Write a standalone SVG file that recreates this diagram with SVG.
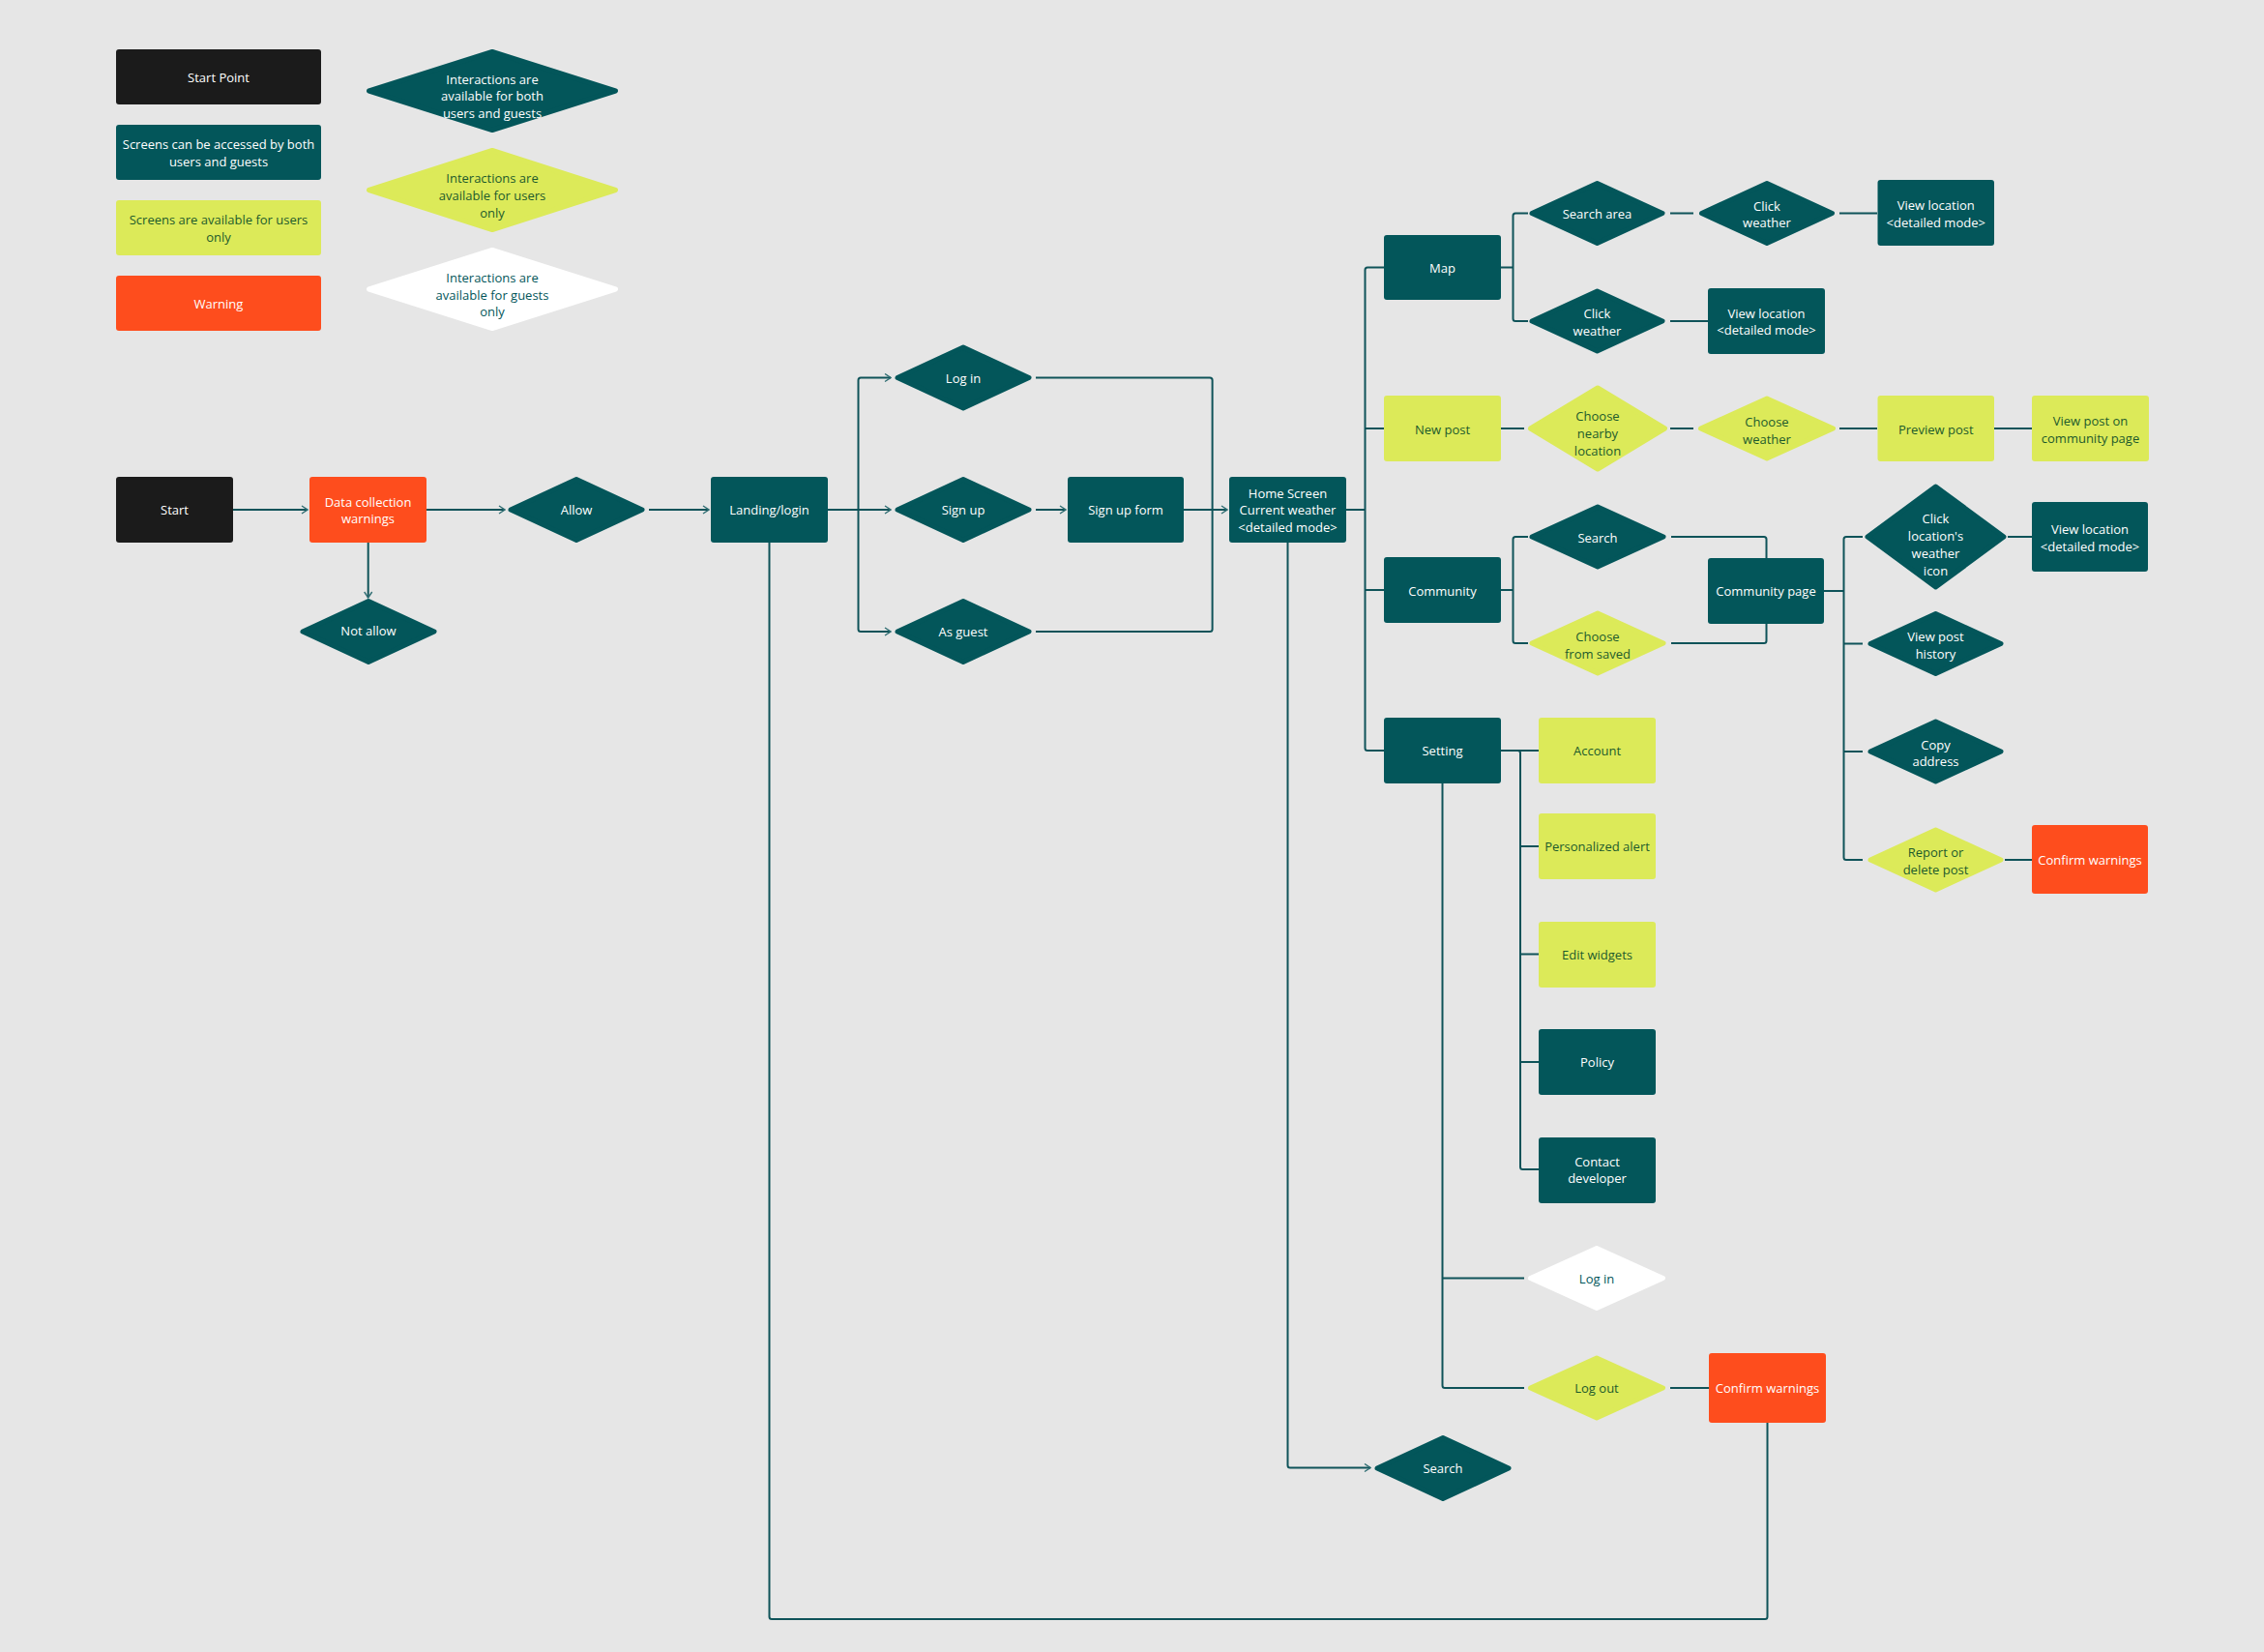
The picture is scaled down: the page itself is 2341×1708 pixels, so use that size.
<svg xmlns="http://www.w3.org/2000/svg" width="2341" height="1708" viewBox="0 0 2341 1708">
  <defs>
    <marker id="arr" viewBox="0 0 8 10" refX="7" refY="5" markerWidth="8" markerHeight="10" markerUnits="userSpaceOnUse" orient="auto">
      <path d="M1,1 L7,5 L1,9" fill="none" stroke="#2f6d72" stroke-width="1.4"/>
    </marker>
    <style>
      .bg { fill: #e6e6e6; }
      .dk { fill: #03565a; stroke: #03565a; }
      .yl { fill: #dcea59; stroke: #dcea59; }
      .wh { fill: #ffffff; stroke: #ffffff; }
      .or { fill: #fe4d1d; stroke: #fe4d1d; }
      .bk { fill: #1b1b1b; stroke: #1b1b1b; }
      rect.dk, rect.yl, rect.wh, rect.or, rect.bk { stroke-width: 0; }
      polygon { stroke-width: 5; stroke-linejoin: round; }
      text { font-family: "Open Sans", "Noto Sans", "Liberation Sans", sans-serif; font-size: 13px; text-anchor: middle; }
      .tw { fill: #ffffff; }
      .tg { fill: #1d5a2c; }
      .tt { fill: #03565a; }
      #connectors path { fill: none; stroke: #0f5359; stroke-width: 2; stroke-linejoin: round; }
      #connectors path.a { marker-end: url(#arr); }
    </style>
  </defs>

  <rect class="bg" x="0" y="0" width="2341" height="1708"/>

  <!-- legend -->
  <g id="legend">
    <g id="lg-start"><rect class="bk" x="120" y="51" width="212" height="57" rx="3"/><text class="tw" x="226" y="84.5">Start Point</text></g>
    <g id="lg-both"><rect class="dk" x="120" y="129" width="212" height="57" rx="3"/><text class="tw" x="226" y="154">Screens can be accessed by both</text><text class="tw" x="226" y="172">users and guests</text></g>
    <g id="lg-users"><rect class="yl" x="120" y="207" width="212" height="57" rx="3"/><text class="tg" x="226" y="232">Screens are available for users</text><text class="tg" x="226" y="250">only</text></g>
    <g id="lg-warning"><rect class="or" x="120" y="285" width="212" height="57" rx="3"/><text class="tw" x="226" y="319">Warning</text></g>
    <g id="lg-int-both"><polygon class="dk" points="381.5,94 509,53.5 636.5,94 509,134.5"/><text class="tw" x="509" y="86.5">Interactions are</text><text class="tw" x="509" y="103.5">available for both</text><text class="tw" x="509" y="121.5">users and guests</text></g>
    <g id="lg-int-users"><polygon class="yl" points="381.5,196.5 509,155.5 636.5,196.5 509,237.5"/><text class="tg" x="509" y="189">Interactions are</text><text class="tg" x="509" y="207">available for users</text><text class="tg" x="509" y="225">only</text></g>
    <g id="lg-int-guests"><polygon class="wh" points="381.5,299 509,258.5 636.5,299 509,339.5"/><text class="tt" x="509" y="292">Interactions are</text><text class="tt" x="509" y="310">available for guests</text><text class="tt" x="509" y="327">only</text></g>
  </g>

  <!-- connectors -->
  <g id="connectors">
    <path class="a" d="M241,527 H318"/>
    <path class="a" d="M441,527 H522"/>
    <path class="a" d="M380.7,561 V618"/>
    <path class="a" d="M671,527 H733"/>
    <path d="M856,527 H887.5"/>
    <path class="a" d="M887.5,527 V393 Q887.5,390.5 890,390.5 H921"/>
    <path class="a" d="M887.5,527 H921"/>
    <path class="a" d="M887.5,527 V650.5 Q887.5,653 890,653 H921"/>
    <path class="a" d="M1071,527 H1102"/>
    <path d="M1071,390.5 H1251 Q1253.6,390.5 1253.6,393 V527"/>
    <path d="M1071,653 H1251 Q1253.6,653 1253.6,650.5 V527"/>
    <path class="a" d="M1224,527 H1269"/>
    <!-- home screen trunk -->
    <path d="M1392,527 H1411"/>
    <path d="M1431,276.5 H1414 Q1411.5,276.5 1411.5,279 V773.5 Q1411.5,776 1414,776 H1431"/>
    <path d="M1411.5,443 H1431"/>
    <path d="M1411.5,610 H1431"/>
    <!-- map -->
    <path d="M1552,276.5 H1564"/>
    <path d="M1580,220.5 H1567 Q1564.5,220.5 1564.5,223 V329.5 Q1564.5,332 1567,332 H1580"/>
    <path d="M1727,220.5 H1751"/>
    <path d="M1902,220.5 H1941"/>
    <path d="M1727,332 H1766"/>
    <!-- new post -->
    <path d="M1552,443 H1576"/>
    <path d="M1727,443 H1751"/>
    <path d="M1902,443 H1941"/>
    <path d="M2062,443 H2101"/>
    <!-- community -->
    <path d="M1552,610 H1564"/>
    <path d="M1580,555 H1567 Q1564.5,555 1564.5,557.5 V662.5 Q1564.5,665 1567,665 H1580"/>
    <path d="M1728,555 H1824 Q1826.5,555 1826.5,557.5 V577"/>
    <path d="M1728,665 H1824 Q1826.5,665 1826.5,662.5 V645"/>
    <path d="M1886,611 H1906"/>
    <path d="M1926,555 H1909 Q1906.5,555 1906.5,557.5 V886.5 Q1906.5,889 1909,889 H1926"/>
    <path d="M1906.5,665.5 H1926"/>
    <path d="M1906.5,777 H1926"/>
    <path d="M2076,555 H2101"/>
    <path d="M2073,889 H2101"/>
    <!-- setting -->
    <path d="M1552,776 H1591"/>
    <path d="M1569.5,776 Q1572,776 1572,778.5 V1206.5 Q1572,1209 1574.5,1209 H1591"/>
    <path d="M1572,875 H1591"/>
    <path d="M1572,986.5 H1591"/>
    <path d="M1572,1098 H1591"/>
    <path d="M1491.5,810 V1432.5 Q1491.5,1435 1494,1435 H1576"/>
    <path d="M1491.5,1321.5 H1576"/>
    <path d="M1727,1435 H1767"/>
    <!-- home screen to search -->
    <path class="a" d="M1331.5,561 V1515 Q1331.5,1517.5 1334,1517.5 H1417"/>
    <!-- confirm warnings back to landing -->
    <path d="M1827.5,1471 V1671.5 Q1827.5,1674 1825,1674 H798 Q795.5,1674 795.5,1671.5 V561"/>
  </g>

  <!-- main flow -->
  <g id="n-start"><rect class="bk" x="120" y="493" width="121" height="68" rx="3"/><text class="tw" x="180.5" y="531.5">Start</text></g>
  <g id="n-data"><rect class="or" x="320" y="493" width="121" height="68" rx="3"/><text class="tw" x="380.5" y="523.5">Data collection</text><text class="tw" x="380.5" y="541">warnings</text></g>
  <g id="n-allow"><polygon class="dk" points="528,527 596,495.5 664,527 596,558.5"/><text class="tw" x="596" y="531.5">Allow</text></g>
  <g id="n-notallow"><polygon class="dk" points="313,653 381,621.5 449,653 381,684.5"/><text class="tw" x="381" y="657">Not allow</text></g>
  <g id="n-landing"><rect class="dk" x="735" y="493" width="121" height="68" rx="3"/><text class="tw" x="795.5" y="531.5">Landing/login</text></g>
  <g id="n-login"><polygon class="dk" points="928,390.5 996,359 1064,390.5 996,422"/><text class="tw" x="996" y="396">Log in</text></g>
  <g id="n-signup"><polygon class="dk" points="928,527 996,495.5 1064,527 996,558.5"/><text class="tw" x="996" y="531.5">Sign up</text></g>
  <g id="n-guest"><polygon class="dk" points="928,653 996,621.5 1064,653 996,684.5"/><text class="tw" x="996" y="658">As guest</text></g>
  <g id="n-signupform"><rect class="dk" x="1104" y="493" width="120" height="68" rx="3"/><text class="tw" x="1164" y="531.5">Sign up form</text></g>
  <g id="n-home"><rect class="dk" x="1271" y="493" width="121" height="68" rx="3"/><text class="tw" x="1331.5" y="515">Home Screen</text><text class="tw" x="1331.5" y="532">Current weather</text><text class="tw" x="1331.5" y="550">&lt;detailed mode&gt;</text></g>

  <!-- map branch -->
  <g id="n-map"><rect class="dk" x="1431" y="243" width="121" height="67" rx="3"/><text class="tw" x="1491.5" y="282">Map</text></g>
  <g id="n-searcharea"><polygon class="dk" points="1584,220.5 1651.5,189.5 1719,220.5 1651.5,251.5"/><text class="tw" x="1651.5" y="226">Search area</text></g>
  <g id="n-clickweather1"><polygon class="dk" points="1759.5,220.5 1827,189.5 1894.5,220.5 1827,251.5"/><text class="tw" x="1827" y="218">Click</text><text class="tw" x="1827" y="235">weather</text></g>
  <g id="n-viewloc1"><rect class="dk" x="1941.5" y="186" width="120.5" height="68" rx="3"/><text class="tw" x="2001.75" y="217">View location</text><text class="tw" x="2001.75" y="235">&lt;detailed mode&gt;</text></g>
  <g id="n-clickweather2"><polygon class="dk" points="1584,332 1651.5,301 1719,332 1651.5,363"/><text class="tw" x="1651.5" y="329">Click</text><text class="tw" x="1651.5" y="347">weather</text></g>
  <g id="n-viewloc2"><rect class="dk" x="1766" y="298" width="121" height="68" rx="3"/><text class="tw" x="1826.5" y="329">View location</text><text class="tw" x="1826.5" y="346">&lt;detailed mode&gt;</text></g>

  <!-- new post branch -->
  <g id="n-newpost"><rect class="yl" x="1431" y="409" width="121" height="68" rx="3"/><text class="tg" x="1491.5" y="449">New post</text></g>
  <g id="n-nearby"><polygon class="yl" points="1582.5,443 1652,401 1721.5,443 1652,485"/><text class="tg" x="1652" y="435">Choose</text><text class="tg" x="1652" y="453">nearby</text><text class="tg" x="1652" y="471">location</text></g>
  <g id="n-chooseweather"><polygon class="yl" points="1758.5,443 1827,412 1895.5,443 1827,474"/><text class="tg" x="1827" y="441">Choose</text><text class="tg" x="1827" y="459">weather</text></g>
  <g id="n-preview"><rect class="yl" x="1941.5" y="409" width="120.5" height="68" rx="3"/><text class="tg" x="2001.75" y="449">Preview post</text></g>
  <g id="n-viewpost"><rect class="yl" x="2101" y="409" width="121" height="68" rx="3"/><text class="tg" x="2161.5" y="440">View post on</text><text class="tg" x="2161.5" y="458">community page</text></g>

  <!-- community branch -->
  <g id="n-community"><rect class="dk" x="1431" y="576" width="121" height="68" rx="3"/><text class="tw" x="1491.5" y="616">Community</text></g>
  <g id="n-csearch"><polygon class="dk" points="1584,555 1652,524 1720,555 1652,586"/><text class="tw" x="1652" y="561">Search</text></g>
  <g id="n-saved"><polygon class="yl" points="1584,665 1652,634 1720,665 1652,696"/><text class="tg" x="1652" y="663">Choose</text><text class="tg" x="1652" y="681">from saved</text></g>
  <g id="n-cpage"><rect class="dk" x="1766" y="577" width="120" height="68" rx="3"/><text class="tw" x="1826" y="616">Community page</text></g>
  <g id="n-clickicon"><polygon class="dk" points="1931,555 2001.5,503 2072,555 2001.5,607"/><text class="tw" x="2001.5" y="541">Click</text><text class="tw" x="2001.5" y="559">location's</text><text class="tw" x="2001.5" y="577">weather</text><text class="tw" x="2001.5" y="595">icon</text></g>
  <g id="n-viewloc3"><rect class="dk" x="2101" y="519" width="120" height="72" rx="3"/><text class="tw" x="2161" y="552">View location</text><text class="tw" x="2161" y="570">&lt;detailed mode&gt;</text></g>
  <g id="n-history"><polygon class="dk" points="1934,665.5 2001.5,634.5 2069,665.5 2001.5,696.5"/><text class="tw" x="2001.5" y="663">View post</text><text class="tw" x="2001.5" y="681">history</text></g>
  <g id="n-copy"><polygon class="dk" points="1934,777 2001.5,746 2069,777 2001.5,808"/><text class="tw" x="2001.5" y="775">Copy</text><text class="tw" x="2001.5" y="792">address</text></g>
  <g id="n-report"><polygon class="yl" points="1934,889 2001.5,858 2069,889 2001.5,920"/><text class="tg" x="2001.5" y="886">Report or</text><text class="tg" x="2001.5" y="904">delete post</text></g>
  <g id="n-confirm1"><rect class="or" x="2101" y="853" width="120" height="71" rx="3"/><text class="tw" x="2161" y="894">Confirm warnings</text></g>

  <!-- setting branch -->
  <g id="n-setting"><rect class="dk" x="1431" y="742" width="121" height="68" rx="3"/><text class="tw" x="1491.5" y="780.5">Setting</text></g>
  <g id="n-account"><rect class="yl" x="1591" y="742" width="121" height="68" rx="3"/><text class="tg" x="1651.5" y="780.5">Account</text></g>
  <g id="n-alert"><rect class="yl" x="1591" y="841" width="121" height="68" rx="3"/><text class="tg" x="1651.5" y="880">Personalized alert</text></g>
  <g id="n-widgets"><rect class="yl" x="1591" y="953" width="121" height="68" rx="3"/><text class="tg" x="1651.5" y="991.5">Edit widgets</text></g>
  <g id="n-policy"><rect class="dk" x="1591" y="1064" width="121" height="68" rx="3"/><text class="tw" x="1651.5" y="1103">Policy</text></g>
  <g id="n-contact"><rect class="dk" x="1591" y="1176" width="121" height="68" rx="3"/><text class="tw" x="1651.5" y="1205.5">Contact</text><text class="tw" x="1651.5" y="1223">developer</text></g>
  <g id="n-guestlogin"><polygon class="wh" points="1582.5,1321.5 1651,1290.5 1719.5,1321.5 1651,1352.5"/><text class="tt" x="1651" y="1327">Log in</text></g>
  <g id="n-logout"><polygon class="yl" points="1582.5,1435 1651,1404 1719.5,1435 1651,1466"/><text class="tg" x="1651" y="1440">Log out</text></g>
  <g id="n-confirm2"><rect class="or" x="1767" y="1399" width="121" height="72" rx="3"/><text class="tw" x="1827.5" y="1440">Confirm warnings</text></g>

  <!-- search from home -->
  <g id="n-hsearch"><polygon class="dk" points="1424,1518 1492,1486.5 1560,1518 1492,1549.5"/><text class="tw" x="1492" y="1522.5">Search</text></g>
</svg>
